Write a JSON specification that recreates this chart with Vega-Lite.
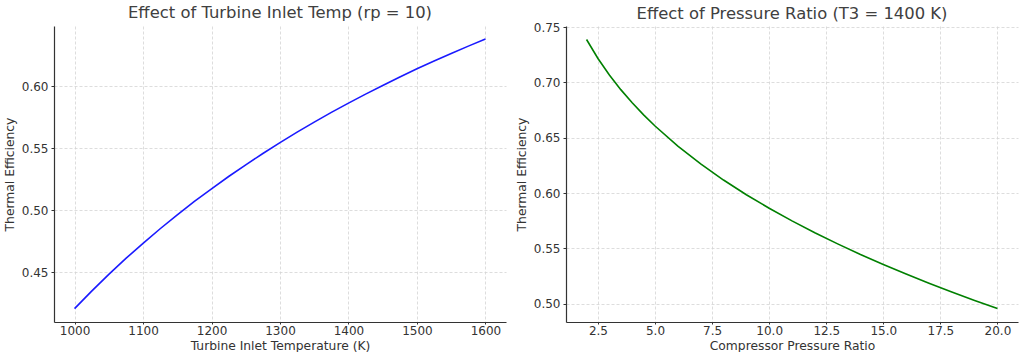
{
  "$schema": "https://vega.github.io/schema/vega-lite/v6.json",
  "padding": {"left": 3, "top": 5, "right": 5, "bottom": 0},
  "background": "white",
  "spacing": 9,
  "datasets": {
    "temp": [
      {"T3": 1000, "eff": 0.4208}, {"T3": 1025, "eff": 0.4349}, {"T3": 1050, "eff": 0.4484},
      {"T3": 1075, "eff": 0.4612}, {"T3": 1100, "eff": 0.4734}, {"T3": 1125, "eff": 0.4851},
      {"T3": 1150, "eff": 0.4963}, {"T3": 1175, "eff": 0.5071}, {"T3": 1200, "eff": 0.5173},
      {"T3": 1225, "eff": 0.5272}, {"T3": 1250, "eff": 0.5366}, {"T3": 1275, "eff": 0.5457},
      {"T3": 1300, "eff": 0.5545}, {"T3": 1325, "eff": 0.5629}, {"T3": 1350, "eff": 0.5710},
      {"T3": 1375, "eff": 0.5788}, {"T3": 1400, "eff": 0.5863}, {"T3": 1425, "eff": 0.5935},
      {"T3": 1450, "eff": 0.6005}, {"T3": 1475, "eff": 0.6073}, {"T3": 1500, "eff": 0.6139},
      {"T3": 1525, "eff": 0.6202}, {"T3": 1550, "eff": 0.6263}, {"T3": 1575, "eff": 0.6322},
      {"T3": 1600, "eff": 0.6380}
    ],
    "ratio": [
      {"rp": 2, "eff": 0.7388}, {"rp": 2.5, "eff": 0.7216}, {"rp": 3, "eff": 0.7067},
      {"rp": 3.5, "eff": 0.6935}, {"rp": 4, "eff": 0.6816}, {"rp": 4.5, "eff": 0.6707},
      {"rp": 5, "eff": 0.6606}, {"rp": 6, "eff": 0.6425}, {"rp": 7, "eff": 0.6264},
      {"rp": 8, "eff": 0.6118}, {"rp": 9, "eff": 0.5985}, {"rp": 10, "eff": 0.5863},
      {"rp": 11, "eff": 0.5749}, {"rp": 12, "eff": 0.5642}, {"rp": 13, "eff": 0.5541},
      {"rp": 14, "eff": 0.5445}, {"rp": 15, "eff": 0.5355}, {"rp": 16, "eff": 0.5268},
      {"rp": 17, "eff": 0.5186}, {"rp": 18, "eff": 0.5106}, {"rp": 19, "eff": 0.5030},
      {"rp": 20, "eff": 0.4957}
    ]
  },
  "hconcat": [
    {
      "width": 452,
      "height": 296,
      "title": {"text": "Effect of Turbine Inlet Temp (rp = 10)", "offset": 4.6},
      "data": {"name": "temp"},
      "mark": {"type": "line", "color": "#1a1aff", "strokeWidth": 1.6},
      "encoding": {
        "x": {"field": "T3", "type": "quantitative", "title": "Turbine Inlet Temperature (K)",
              "scale": {"domain": [970, 1630], "nice": false, "zero": false},
              "axis": {"values": [1000, 1100, 1200, 1300, 1400, 1500, 1600], "format": "d", "tickSize": 2, "labelPadding": 1, "titlePadding": 3}},
        "y": {"field": "eff", "type": "quantitative", "title": "Thermal Efficiency",
              "scale": {"domain": [0.410, 0.6484], "nice": false, "zero": false},
              "axis": {"values": [0.45, 0.5, 0.55, 0.6], "format": ".2f"}}
      }
    },
    {
      "width": 452,
      "height": 296,
      "title": {"text": "Effect of Pressure Ratio (T3 = 1400 K)", "offset": -1.4},
      "data": {"name": "ratio"},
      "mark": {"type": "line", "color": "#008000", "strokeWidth": 1.6},
      "encoding": {
        "x": {"field": "rp", "type": "quantitative", "title": "Compressor Pressure Ratio",
              "scale": {"domain": [1.1, 20.9], "nice": false, "zero": false},
              "axis": {"values": [2.5, 5, 7.5, 10, 12.5, 15, 17.5, 20], "format": ".1f", "tickSize": 2, "labelPadding": 1, "titlePadding": 3}},
        "y": {"field": "eff", "type": "quantitative", "title": "Thermal Efficiency",
              "scale": {"domain": [0.4835, 0.751], "nice": false, "zero": false},
              "axis": {"values": [0.5, 0.55, 0.6, 0.65, 0.7, 0.75], "format": ".2f"}}
      }
    }
  ],
  "config": {
    "font": "DejaVu Sans",
    "view": {"stroke": null},
    "title": {"fontSize": 16.4, "fontWeight": "normal", "color": "#404040", "font": "DejaVu Sans"},
    "axis": {
      "labelFontSize": 12, "titleFontSize": 12.3, "titleFontWeight": "normal",
      "labelColor": "#333333", "titleColor": "#333333",
      "domainColor": "#333333", "domainWidth": 1.2,
      "tickColor": "#333333", "tickSize": 3, "labelPadding": 3, "titlePadding": 5,
      "gridColor": "#d4d4d4", "gridDash": [3, 2], "gridWidth": 0.8,
      "labelFont": "DejaVu Sans", "titleFont": "DejaVu Sans"
    }
  }
}
